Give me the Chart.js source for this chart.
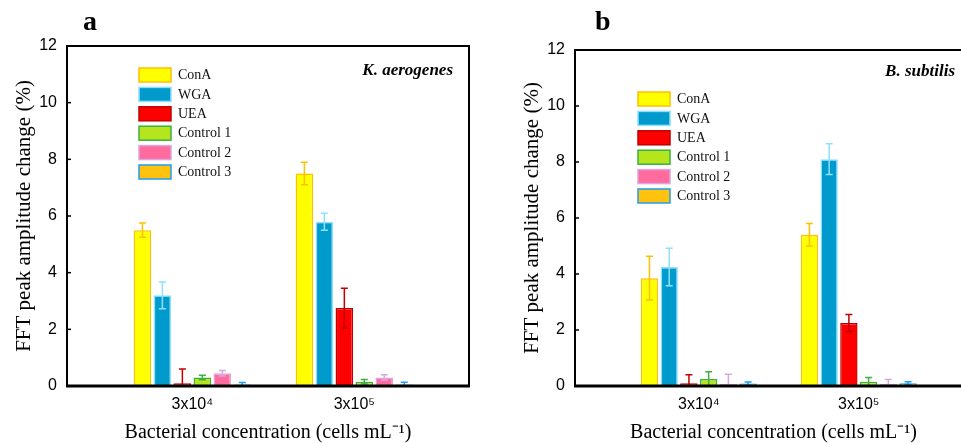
<!DOCTYPE html>
<html lang="en">
<head>
<meta charset="UTF-8">
<title>FFT peak amplitude change</title>
<script src="https://cdn.jsdelivr.net/npm/chart.js"></script>
<style>
  html, body { margin: 0; padding: 0; background: #fff; overflow: hidden; }
  body { width: 961px; height: 443px; position: relative; }
  .panel { position: absolute; top: 0; }
  #panelA { left: 0; }
  #panelB { left: 508px; }
</style>
</head>
<body>
<canvas id="panelA" class="panel" width="480" height="443"></canvas>
<canvas id="panelB" class="panel" width="480" height="443"></canvas>
<script>
// categories (x) and series names
const categories = ['3x10\u2074', '3x10\u2075'];
const seriesNames = ['ConA', 'WGA', 'UEA', 'Control 1', 'Control 2', 'Control 3'];
const yTicks = [0, 2, 4, 6, 8, 10, 12];

// panel a: K. aerogenes, one row per series, one value per category
const kAerogenesMeans = [[5.5, 7.5], [3.2, 5.8], [0.1, 2.75], [0.3, 0.15], [0.45, 0.3], [0.05, 0.05]];
const kAerogenesErrors = [[0.25, 0.4], [0.47, 0.3], [0.5, 0.7], [0.08, 0.08], [0.1, 0.1], [0.07, 0.08]];

// panel b: B. subtilis
const bSubtilisMeans = [[3.85, 5.4], [4.25, 8.1], [0.1, 2.25], [0.25, 0.15], [0.07, 0.08], [0.09, 0.1]];
const bSubtilisErrors = [[0.78, 0.4], [0.67, 0.55], [0.3, 0.3], [0.26, 0.15], [0.35, 0.15], [0.05, 0.05]];

// styles
const fillColors = ['#ffff00', '#009bcc', '#ff0000', '#b5e61d', '#ff6b9d', '#ffc20e'];
const borderColors = ['#ffc000', '#8fe0ff', '#c00000', '#3cb043', '#d9a6e0', '#1e9ff0'];

const serif = 'Liberation Serif, Times New Roman, serif';
const sans = 'Liberation Sans, Arial, sans-serif';

// error bars, frame, inward ticks, legend and labels
const panelDecor = {
  id: 'panelDecor',
  afterDatasetsDraw(chart) {
    const ctx = chart.ctx, area = chart.chartArea, ys = chart.scales.y;
    ctx.save();
    ctx.beginPath();
    ctx.rect(area.left, 0, area.right - area.left, area.bottom);
    ctx.clip();
    chart.data.datasets.forEach((ds, i) => {
      const meta = chart.getDatasetMeta(i);
      meta.data.forEach((bar, j) => {
        const v = ds.data[j].y, e = ds.errors[j];
        const top = ys.getPixelForValue(v + e);
        const bot = ys.getPixelForValue(v - e);
        ctx.strokeStyle = borderColors[i];
        ctx.lineWidth = 1.5;
        ctx.beginPath();
        ctx.moveTo(bar.x, top); ctx.lineTo(bar.x, bot);
        ctx.moveTo(bar.x - 3.5, top); ctx.lineTo(bar.x + 3.5, top);
        ctx.moveTo(bar.x - 3.5, bot); ctx.lineTo(bar.x + 3.5, bot);
        ctx.stroke();
      });
    });
    ctx.restore();
  },
  afterDraw(chart, args, opts) {
    const ctx = chart.ctx, area = chart.chartArea, ys = chart.scales.y;
    ctx.save();
    // frame
    ctx.strokeStyle = '#000';
    ctx.lineWidth = 2;
    ctx.strokeRect(area.left, area.top, area.right - area.left, area.bottom - area.top);
    ctx.lineWidth = 3;
    ctx.beginPath();
    ctx.moveTo(area.left - 1, area.bottom); ctx.lineTo(area.right + 1, area.bottom);
    ctx.stroke();
    // inward tick marks
    ctx.lineWidth = 1.5;
    ys.ticks.forEach(t => {
      const py = ys.getPixelForValue(t.value);
      ctx.beginPath();
      ctx.moveTo(area.left, py); ctx.lineTo(area.left + 4, py);
      ctx.stroke();
    });
    // legend
    ctx.font = '14px ' + serif;
    ctx.textBaseline = 'middle';
    ctx.textAlign = 'left';
    chart.data.datasets.forEach((ds, i) => {
      const bx = opts.legendX, by = opts.legendY + i * 19.4;
      ctx.fillStyle = ds.backgroundColor;
      ctx.fillRect(bx, by, 32, 14);
      ctx.strokeStyle = ds.borderColor;
      ctx.lineWidth = 1.5;
      ctx.strokeRect(bx, by, 32, 14);
      ctx.fillStyle = '#111';
      ctx.fillText(ds.label, bx + 39, by + 7.5);
    });
    // species name
    ctx.font = 'italic bold 17px ' + serif;
    ctx.textAlign = 'right';
    ctx.fillStyle = '#000';
    ctx.fillText(opts.species, opts.speciesX, opts.speciesY);
    // panel letter
    ctx.font = 'bold 28px ' + serif;
    ctx.textAlign = 'left';
    ctx.textBaseline = 'alphabetic';
    ctx.fillText(opts.letter, opts.letterX, 30);
    ctx.restore();
  }
};

function makePanel(id, means, errors, deco, padTop, padRight) {
  const datasets = seriesNames.map((name, i) => ({
    label: name,
    data: means[i].map((v, j) => ({ x: j + 1, y: v })),
    errors: errors[i],
    backgroundColor: fillColors[i],
    borderColor: borderColors[i],
    borderWidth: 1.5,
    categoryPercentage: 0.74,
    barPercentage: 0.88
  }));

  new Chart(document.getElementById(id), {
    type: 'bar',
    data: { datasets },
    options: {
      responsive: false,
      animation: false,
      layout: { padding: { top: padTop, right: padRight, left: 0, bottom: 0 } },
      scales: {
        x: {
          type: 'linear',
          min: 0.226,
          max: 2.708,
          offset: false,
          grid: { display: false, drawTicks: false },
          border: { display: false },
          afterBuildTicks: s => { s.ticks = categories.map((c, i) => ({ value: i + 1 })); },
          ticks: {
            callback: v => categories[v - 1],
            font: { family: sans, size: 16 },
            color: '#000',
            padding: 9,
            autoSkip: false,
            maxRotation: 0
          },
          title: {
            display: true,
            text: 'Bacterial concentration (cells mL\u207B\u00B9)',
            font: { family: serif, size: 20, lineHeight: 1 },
            color: '#000',
            padding: 0
          },
          afterFit: s => { s.height = 57; }
        },
        y: {
          min: 0,
          max: 12,
          afterBuildTicks: s => { s.ticks = yTicks.map(v => ({ value: v })); },
          grid: { display: false, drawTicks: false },
          border: { display: false },
          ticks: { font: { family: sans, size: 16 }, color: '#000', padding: 10 },
          title: {
            display: true,
            text: 'FFT peak amplitude change (%)',
            font: { family: serif, size: 21, lineHeight: 1 },
            color: '#000',
            padding: { top: 14, bottom: 0 }
          },
          afterFit: s => { s.width = 67; }
        }
      },
      plugins: {
        legend: { display: false },
        tooltip: { enabled: false },
        panelDecor: deco
      }
    },
    plugins: [panelDecor]
  });
}

makePanel('panelA', kAerogenesMeans, kAerogenesErrors, {
  legendX: 139, legendY: 68,
  species: 'K. aerogenes', speciesX: 453, speciesY: 71,
  letter: 'a', letterX: 83
}, 46, 11);

makePanel('panelB', bSubtilisMeans, bSubtilisErrors, {
  legendX: 130, legendY: 92,
  species: 'B. subtilis', speciesX: 447, speciesY: 72,
  letter: 'b', letterX: 87
}, 50, 16);
</script>
</body>
</html>
